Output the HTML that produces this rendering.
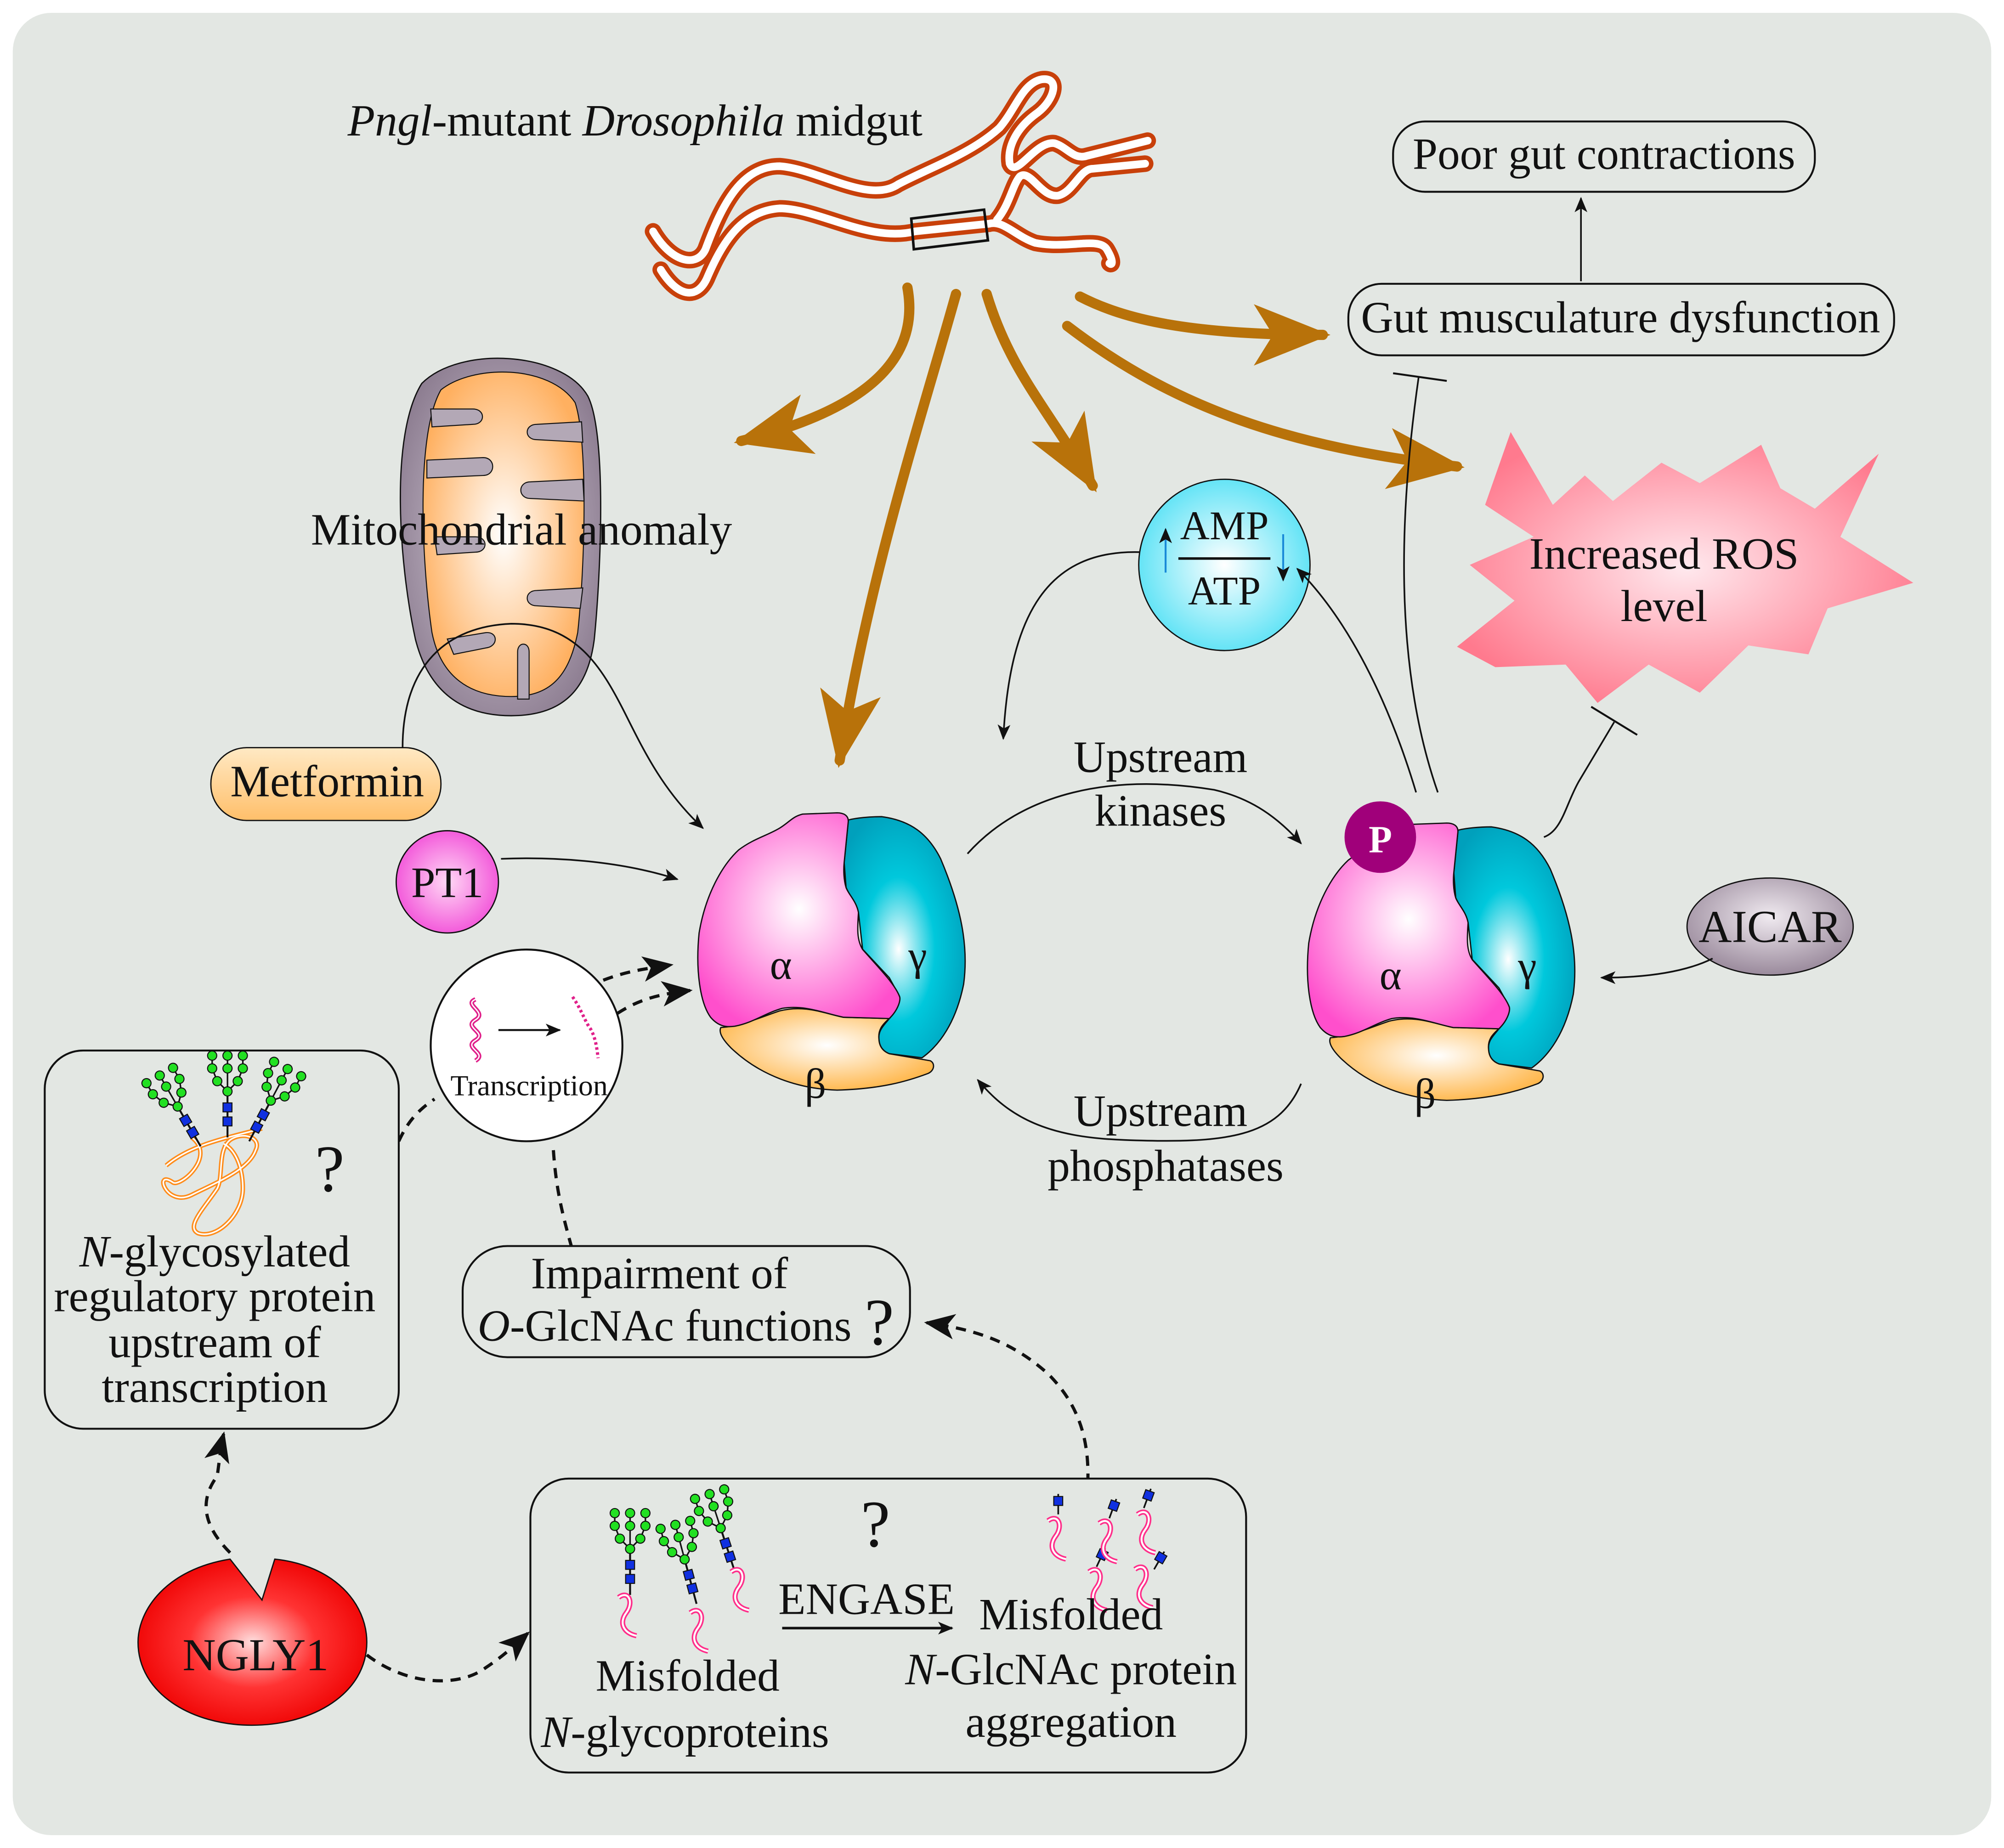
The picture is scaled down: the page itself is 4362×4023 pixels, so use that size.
<!DOCTYPE html>
<html><head><meta charset="utf-8"><style>
html,body{margin:0;padding:0;background:#fff;}
svg{display:block;}
text{font-family:"Liberation Serif",serif;fill:#111;}
</style></head><body>
<svg width="4362" height="4023" viewBox="0 0 1568 1446" xmlns="http://www.w3.org/2000/svg">
<defs>
<radialGradient id="gPink" cx="0.5" cy="0.45" r="0.6"><stop offset="0" stop-color="#fff"/><stop offset="1" stop-color="#ff4fcc"/></radialGradient>
<radialGradient id="gCyan" cx="0.45" cy="0.55" r="0.6"><stop offset="0" stop-color="#fff"/><stop offset="0.5" stop-color="#00c8dc"/><stop offset="1" stop-color="#00a0bc"/></radialGradient>
<radialGradient id="gOr" cx="0.5" cy="0.45" r="0.6"><stop offset="0" stop-color="#fff"/><stop offset="1" stop-color="#ffb444"/></radialGradient>
<radialGradient id="gAMP" cx="0.5" cy="0.5" r="0.55"><stop offset="0" stop-color="#fff"/><stop offset="1" stop-color="#55e1f5"/></radialGradient>
<radialGradient id="gRos" cx="0.5" cy="0.5" r="0.55"><stop offset="0" stop-color="#ffe9ee"/><stop offset="1" stop-color="#ff7a8e"/></radialGradient>
<radialGradient id="gRed" cx="0.5" cy="0.5" r="0.55"><stop offset="0" stop-color="#ffdede"/><stop offset="0.5" stop-color="#f33"/><stop offset="1" stop-color="#e00"/></radialGradient>
<radialGradient id="gMito" cx="0.5" cy="0.5" r="0.55"><stop offset="0" stop-color="#fff"/><stop offset="1" stop-color="#ffb060"/></radialGradient>
<radialGradient id="gMitoO" cx="0.5" cy="0.5" r="0.6"><stop offset="0" stop-color="#d8d0dc"/><stop offset="1" stop-color="#8a7a8e"/></radialGradient>
<linearGradient id="gMet" x1="0" y1="0" x2="0" y2="1"><stop offset="0" stop-color="#ffe9c4"/><stop offset="1" stop-color="#ffbf6a"/></linearGradient>
<radialGradient id="gPT" cx="0.5" cy="0.5" r="0.55"><stop offset="0" stop-color="#ffd8f5"/><stop offset="1" stop-color="#f24fd8"/></radialGradient>
<radialGradient id="gAic" cx="0.5" cy="0.4" r="0.6"><stop offset="0" stop-color="#f0eaf0"/><stop offset="1" stop-color="#9a8a9c"/></radialGradient>
<marker id="ah" viewBox="0 0 12 10" refX="11" refY="5" markerWidth="12" markerHeight="10" markerUnits="userSpaceOnUse" orient="auto"><path d="M0,0 L12,5 L0,10 L3,5 Z" fill="#111"/></marker>
<marker id="ahB" viewBox="0 0 24 20" refX="22" refY="10" markerWidth="24" markerHeight="20" markerUnits="userSpaceOnUse" orient="auto"><path d="M0,0 L24,10 L0,20 L6,10 Z" fill="#111"/></marker>
<marker id="ahO" viewBox="0 0 20 16" refX="18" refY="8" markerWidth="60" markerHeight="48" markerUnits="userSpaceOnUse" orient="auto"><path d="M0,0 L20,8 L0,16 L5,8 Z" fill="#b8720a"/></marker>
<g id="tree">
<line x1="0" y1="0" x2="0" y2="-36" stroke="#111" stroke-width="1.5"/>
<path d="M0,-36 L-8,-44 L-12,-54 L-12,-64 M0,-36 L0,-64 M0,-36 L8,-44 L12,-54 L12,-64" stroke="#111" stroke-width="1.2" fill="none"/>
<rect x="-3.5" y="-16" width="7" height="7" fill="#1030e0" stroke="#111" stroke-width="0.8"/>
<rect x="-3.5" y="-27" width="7" height="7" fill="#1030e0" stroke="#111" stroke-width="0.8"/>
<g fill="#22e022" stroke="#111" stroke-width="0.8">
<circle cx="0" cy="-36" r="3.6"/><circle cx="-8" cy="-44" r="3.6"/><circle cx="8" cy="-44" r="3.6"/>
<circle cx="-12" cy="-54" r="3.6"/><circle cx="0" cy="-54" r="3.6"/><circle cx="12" cy="-54" r="3.6"/>
<circle cx="-12" cy="-64" r="3.6"/><circle cx="0" cy="-64" r="3.6"/><circle cx="12" cy="-64" r="3.6"/>
</g></g>
<g id="stub"><line x1="0" y1="0" x2="0" y2="-16" stroke="#111" stroke-width="1.3"/><rect x="-3.5" y="-14" width="7" height="7" fill="#1030e0" stroke="#111" stroke-width="0.8"/></g>
<g id="worm"><path d="M0,0 C8,-6 12,4 6,12 C0,20 4,28 14,30" fill="none" stroke="#ff2e8a" stroke-width="4"/><path d="M0,0 C8,-6 12,4 6,12 C0,20 4,28 14,30" fill="none" stroke="#fff" stroke-width="1.5"/></g>
<g id="ampk">
<path d="M663.7,643 L660.5,675 L662,694.5 L671.7,714 L674.9,742.7 L695.8,765 L703.8,779.6 L695.8,797 C692,802 687,806 687.7,813 C688,820 692,823 695.8,824.5 L721.4,827.7 C735,818 748,800 754,770 C758,740 752,710 736,672 C726,652 712,642 690,639 C680,639 670,640 663.7,641.6 Z" fill="url(#gCyan)" stroke="#111" stroke-width="1"/>
<path d="M564,804 C580,803 595,796 610,791 C630,786 645,793 660,796 L695.8,797 C690,802 687,806 687.7,813 C688,820 692,823 695.8,824.5 L727.8,830 C732,832 731,838 726,840 C710,846 690,852 655,853 C625,852 595,842 572,820 C566,814 562,808 564,804 Z" fill="url(#gOr)" stroke="#111" stroke-width="1"/>
<path d="M663.7,643 C664,638 660,636 655,636 L628,637 C620,639 618,643 610,648 C600,654 590,656 578,665 C565,677 552,700 547,730 C544,760 548,785 556,796 C562,803 568,804 575,803 C590,800 598,793 612,789 C630,786 645,793 660,796 L695.8,797 C703,790 705,782 703.8,779.6 C700,770 690,760 675,743 C670,735 671,725 671.7,714 C670,705 664,700 662,694.5 C660,688 660,680 660.5,675 Z" fill="url(#gPink)" stroke="#111" stroke-width="1"/>
</g>
<g id="gutp">
<path d="M511,181 C525,205 545,210 552,195 C565,160 580,130 610,130 C640,132 680,160 703,144 C730,130 760,120 782,100 C795,85 800,65 815,62 C830,60 825,78 812,88 C795,100 788,115 790,128 C795,140 810,110 825,112 C835,115 840,125 850,122 L898,110"/>
<path d="M517,211 C530,232 545,235 553,218 C565,190 580,165 610,163 C640,163 680,190 716,181 L774,175 C785,172 795,185 810,190 C835,195 860,185 866,195 C872,205 870,208 868,206"/>
<path d="M780,172 C790,160 792,145 798,138 C806,132 815,155 828,153 C840,150 845,132 855,132 L896,128"/>
</g>
</defs>

<rect x="0" y="0" width="1568" height="1446" fill="#fff"/>
<rect x="10" y="10" width="1548" height="1426" rx="30" fill="#e3e7e3"/>

<!-- title -->
<text x="272" y="106" font-size="35"><tspan font-style="italic">Pngl</tspan>-mutant <tspan font-style="italic">Drosophila</tspan> midgut</text>

<!-- gut -->
<use href="#gutp" fill="none" stroke="#c8400a" stroke-width="13" stroke-linecap="round"/>
<use href="#gutp" fill="none" stroke="#fff" stroke-width="6" stroke-linecap="round"/>
<polygon points="713,171 770,164 773,188 715,195" fill="none" stroke="#111" stroke-width="2"/>

<!-- brown arrows -->
<g fill="none" stroke="#b8720a" stroke-width="8" stroke-linecap="round">
<path d="M710,225 C720,280 680,320 580,345" marker-end="url(#ahO)"/>
<path d="M748,230 C720,330 680,450 657,595" marker-end="url(#ahO)"/>
<path d="M772,230 C790,290 820,320 855,380" marker-end="url(#ahO)"/>
<path d="M845,232 C880,250 930,262 1035,262" marker-end="url(#ahO)"/>
<path d="M835,255 C920,320 1010,350 1140,365" marker-end="url(#ahO)"/>
</g>

<!-- top right boxes -->
<rect x="1090" y="95" width="330" height="55" rx="25" fill="#e3e7e3" stroke="#111" stroke-width="1.5"/>
<text x="1255" y="132" font-size="35" text-anchor="middle">Poor gut contractions</text>
<rect x="1055" y="222" width="427" height="56" rx="26" fill="#e3e7e3" stroke="#111" stroke-width="1.5"/>
<text x="1268" y="260" font-size="35" text-anchor="middle">Gut musculature dysfunction</text>
<line x1="1237" y1="220" x2="1237" y2="155" stroke="#111" stroke-width="1.3" marker-end="url(#ah)"/>

<!-- ROS -->
<polygon points="1182,338 1215,395 1240,372 1262,392 1300,362 1330,378 1378,348 1393,382 1420,398 1470,355 1440,420 1497,456 1430,476 1415,512 1368,505 1330,542 1290,520 1250,550 1225,520 1170,522 1140,506 1185,470 1150,442 1200,420 1162,395" fill="url(#gRos)"/>
<text x="1302" y="445" font-size="35" text-anchor="middle">Increased ROS</text>
<text x="1302" y="486" font-size="35" text-anchor="middle">level</text>

<!-- mitochondrion -->
<path d="M330,300 C360,270 440,275 460,310 C475,340 470,450 465,500 C460,540 440,560 400,560 C360,560 335,540 325,500 C312,440 305,340 330,300 Z" fill="url(#gMitoO)" stroke="#111" stroke-width="1"/>
<path d="M345,305 C370,285 430,285 450,315 C460,345 458,440 452,495 C445,530 430,545 400,545 C368,545 345,530 338,495 C330,440 325,340 345,305 Z" fill="url(#gMito)" stroke="#111" stroke-width="0.8"/>
<g fill="#b3a8b6" stroke="#111" stroke-width="0.8">
<path d="M337,320 L370,320 C380,320 380,332 370,332 L338,334 Z"/>
<path d="M334,360 L378,358 C388,358 388,372 378,372 L334,374 Z"/>
<path d="M455,330 L420,332 C410,332 410,344 420,344 L456,346 Z"/>
<path d="M456,375 L415,377 C405,377 405,390 415,390 L457,392 Z"/>
<path d="M456,460 L420,462 C410,462 410,474 420,474 L454,476 Z"/>
<path d="M340,420 L372,420 C382,420 382,432 372,432 L342,434 Z"/>
<path d="M350,500 L380,495 C390,494 390,506 380,507 L355,512 Z"/>
<path d="M405,547 L405,510 C405,502 414,502 414,510 L414,547 Z"/>
</g>
<text x="408" y="426" font-size="35" text-anchor="middle">Mitochondrial anomaly</text>

<!-- metformin -->
<rect x="165" y="585" width="180" height="57" rx="28" fill="url(#gMet)" stroke="#111" stroke-width="1"/>
<text x="256" y="623" font-size="35" text-anchor="middle">Metformin</text>
<path d="M315,585 C315,520 350,490 400,488 C450,488 470,520 490,560 C505,590 520,620 550,648" fill="none" stroke="#111" stroke-width="1.3" marker-end="url(#ah)"/>

<!-- PT1 -->
<circle cx="350" cy="690" r="40" fill="url(#gPT)" stroke="#111" stroke-width="1"/>
<text x="350" y="702" font-size="34" text-anchor="middle">PT1</text>
<path d="M392,672 C440,670 490,675 530,688" fill="none" stroke="#111" stroke-width="1.3" marker-end="url(#ah)"/>

<!-- AMPK complexes -->
<use href="#ampk"/>
<text x="611" y="766" font-size="33" text-anchor="middle">α</text>
<text x="718" y="759" font-size="33" text-anchor="middle">γ</text>
<text x="638" y="859" font-size="33" text-anchor="middle">β</text>
<use href="#ampk" transform="translate(477,8)"/>
<text x="1088" y="774" font-size="33" text-anchor="middle">α</text>
<text x="1195" y="767" font-size="33" text-anchor="middle">γ</text>
<text x="1115" y="867" font-size="33" text-anchor="middle">β</text>
<circle cx="1080" cy="655" r="28" fill="#a0007a"/>
<text x="1080" y="667" font-size="30" font-weight="bold" text-anchor="middle" style="fill:#fff">P</text>

<!-- upstream kinases -->
<path d="M757,668 C800,620 870,605 950,618 C980,625 1000,640 1018,660" fill="none" stroke="#111" stroke-width="1.3" marker-end="url(#ah)"/>
<text x="908" y="604" font-size="35" text-anchor="middle">Upstream</text>
<text x="908" y="646" font-size="35" text-anchor="middle">kinases</text>
<path d="M1018,848 C1000,890 960,895 880,892 C820,890 790,875 765,845" fill="none" stroke="#111" stroke-width="1.3" marker-end="url(#ah)"/>
<text x="908" y="881" font-size="35" text-anchor="middle">Upstream</text>
<text x="912" y="924" font-size="35" text-anchor="middle">phosphatases</text>

<!-- AMP/ATP -->
<circle cx="958" cy="442" r="67" fill="url(#gAMP)" stroke="#111" stroke-width="1"/>
<text x="958" y="422" font-size="32" text-anchor="middle">AMP</text>
<line x1="922" y1="437" x2="994" y2="437" stroke="#111" stroke-width="2"/>
<text x="958" y="473" font-size="32" text-anchor="middle">ATP</text>
<path d="M912,448 L912,414" stroke="#1a8ad8" stroke-width="1.5" marker-end="url(#ah)"/>
<path d="M1004,418 L1004,454" stroke="#1a8ad8" stroke-width="1.5" marker-end="url(#ah)"/>
<path d="M892,432 C820,430 790,480 785,578" fill="none" stroke="#111" stroke-width="1.3" marker-end="url(#ah)"/>
<path d="M1108,620 C1090,560 1060,490 1015,445" fill="none" stroke="#111" stroke-width="1.3" marker-end="url(#ah)"/>

<!-- inhibition lines -->
<path d="M1125,620 C1090,520 1095,400 1110,295" fill="none" stroke="#111" stroke-width="1.3"/>
<line x1="1090" y1="292" x2="1132" y2="298" stroke="#111" stroke-width="1.5"/>
<path d="M1208,655 C1222,650 1225,630 1235,612 L1263,565" fill="none" stroke="#111" stroke-width="1.3"/>
<line x1="1245" y1="553" x2="1281" y2="575" stroke="#111" stroke-width="1.5"/>

<!-- AICAR -->
<ellipse cx="1385" cy="725" rx="65" ry="38" fill="url(#gAic)" stroke="#111" stroke-width="1"/>
<text x="1385" y="737" font-size="36" text-anchor="middle">AICAR</text>
<path d="M1340,750 C1320,760 1290,765 1253,765" fill="none" stroke="#111" stroke-width="1.3" marker-end="url(#ah)"/>

<!-- transcription circle -->
<circle cx="412" cy="818" r="75" fill="#fff" stroke="#111" stroke-width="1.5"/>
<path d="M372,782 C362,786 382,792 372,798 C362,804 382,808 372,814 C362,820 382,824 372,830" fill="none" stroke="#e0208a" stroke-width="3.5"/>
<path d="M372,782 C362,786 382,792 372,798 C362,804 382,808 372,814 C362,820 382,824 372,830" fill="none" stroke="#fff" stroke-width="1"/>
<line x1="390" y1="806" x2="438" y2="806" stroke="#111" stroke-width="1.5" marker-end="url(#ah)"/>
<path d="M448,780 C455,790 458,800 462,805 C466,812 467,820 468,828" fill="none" stroke="#e0208a" stroke-width="2.5" stroke-dasharray="2,2"/>
<text x="414" y="857" font-size="23" text-anchor="middle">Transcription</text>
<path d="M472,767 C490,760 505,758 525,755" fill="none" stroke="#111" stroke-width="2.5" stroke-dasharray="8,6" marker-end="url(#ahB)"/>
<path d="M483,793 C500,782 515,778 540,775" fill="none" stroke="#111" stroke-width="2.5" stroke-dasharray="8,6" marker-end="url(#ahB)"/>
<path d="M312,893 C318,880 325,870 340,860" fill="none" stroke="#111" stroke-width="2.5" stroke-dasharray="8,6"/>
<path d="M433,900 C435,930 440,950 447,975" fill="none" stroke="#111" stroke-width="2.5" stroke-dasharray="8,6"/>

<!-- left box -->
<rect x="35" y="822" width="277" height="296" rx="30" fill="#e3e7e3" stroke="#111" stroke-width="1.5"/>
<g fill="none" stroke="#ff8c1a" stroke-width="3.5">
<path d="M130,912 C150,895 180,890 205,883 M150,890 C170,905 140,930 135,925 C120,915 130,945 150,935 C170,925 195,915 200,900 C205,890 190,885 180,892 C170,900 175,920 170,930 C160,945 145,960 155,965 C170,970 190,950 190,930 C190,915 185,900 175,895"/>
</g>
<g fill="none" stroke="#fff" stroke-width="1.2">
<path d="M130,912 C150,895 180,890 205,883 M150,890 C170,905 140,930 135,925 C120,915 130,945 150,935 C170,925 195,915 200,900 C205,890 190,885 180,892 C170,900 175,920 170,930 C160,945 145,960 155,965 C170,970 190,950 190,930 C190,915 185,900 175,895"/>
</g>
<use href="#tree" transform="translate(157,897) rotate(-30)"/>
<use href="#tree" transform="translate(178,890)"/>
<use href="#tree" transform="translate(195,893) rotate(28)"/>
<text x="258" y="932" font-size="52" text-anchor="middle">?</text>
<text x="168" y="991" font-size="35" text-anchor="middle"><tspan font-style="italic">N</tspan>-glycosylated</text>
<text x="168" y="1026" font-size="35" text-anchor="middle">regulatory protein</text>
<text x="168" y="1062" font-size="35" text-anchor="middle">upstream of</text>
<text x="168" y="1097" font-size="35" text-anchor="middle">transcription</text>

<!-- impairment box -->
<rect x="362" y="975" width="350" height="87" rx="35" fill="#e3e7e3" stroke="#111" stroke-width="1.5"/>
<text x="516" y="1008" font-size="35" text-anchor="middle">Impairment of</text>
<text x="520" y="1049" font-size="35" text-anchor="middle"><tspan font-style="italic">O</tspan>-GlcNAc functions</text>
<text x="688" y="1052" font-size="52" text-anchor="middle">?</text>
<path d="M850,1175 C855,1130 845,1100 820,1075 C790,1048 760,1040 725,1035" fill="none" stroke="#111" stroke-width="2.5" stroke-dasharray="8,6" marker-end="url(#ahB)"/>

<!-- bottom box -->
<rect x="415" y="1157" width="560" height="230" rx="30" fill="#e3e7e3" stroke="#111" stroke-width="1.5"/>
<use href="#tree" transform="translate(493,1248)"/>
<use href="#tree" transform="translate(545,1255) rotate(-15)"/>
<use href="#tree" transform="translate(575,1230) rotate(-18)"/>
<use href="#worm" transform="translate(484,1250)"/>
<use href="#worm" transform="translate(540,1262)"/>
<use href="#worm" transform="translate(572,1230)"/>
<text x="685" y="1210" font-size="52" text-anchor="middle">?</text>
<text x="678" y="1263" font-size="35" text-anchor="middle">ENGASE</text>
<line x1="612" y1="1274" x2="745" y2="1274" stroke="#111" stroke-width="2" marker-end="url(#ah)"/>
<use href="#stub" transform="translate(828,1185)"/>
<use href="#stub" transform="translate(868,1188) rotate(20)"/>
<use href="#stub" transform="translate(895,1180) rotate(20)"/>
<use href="#stub" transform="translate(858,1226) rotate(25)"/>
<use href="#stub" transform="translate(903,1228) rotate(30)"/>
<use href="#worm" transform="translate(820,1190)"/>
<use href="#worm" transform="translate(860,1192)"/>
<use href="#worm" transform="translate(890,1185)"/>
<use href="#worm" transform="translate(852,1230)"/>
<use href="#worm" transform="translate(888,1228)"/>
<text x="538" y="1323" font-size="35" text-anchor="middle">Misfolded</text>
<text x="536" y="1367" font-size="35" text-anchor="middle"><tspan font-style="italic">N</tspan>-glycoproteins</text>
<text x="838" y="1275" font-size="35" text-anchor="middle">Misfolded</text>
<text x="838" y="1318" font-size="35" text-anchor="middle"><tspan font-style="italic">N</tspan>-GlcNAc protein</text>
<text x="838" y="1359" font-size="35" text-anchor="middle">aggregation</text>

<!-- NGLY1 -->
<path d="M180,1220 C130,1228 108,1260 108,1285 C108,1325 150,1350 197,1350 C245,1350 287,1325 287,1285 C287,1255 262,1225 215,1220 L205,1252 Z" fill="url(#gRed)" stroke="#111" stroke-width="1"/>
<text x="200" y="1307" font-size="36" text-anchor="middle">NGLY1</text>
<path d="M180,1215 C160,1195 155,1175 170,1155 C172,1140 173,1130 175,1122" fill="none" stroke="#111" stroke-width="2.5" stroke-dasharray="8,6" marker-end="url(#ahB)"/>
<path d="M287,1295 C320,1320 360,1320 380,1305 C395,1295 402,1288 413,1278" fill="none" stroke="#111" stroke-width="2.5" stroke-dasharray="8,6" marker-end="url(#ahB)"/>
</svg>
</body></html>
